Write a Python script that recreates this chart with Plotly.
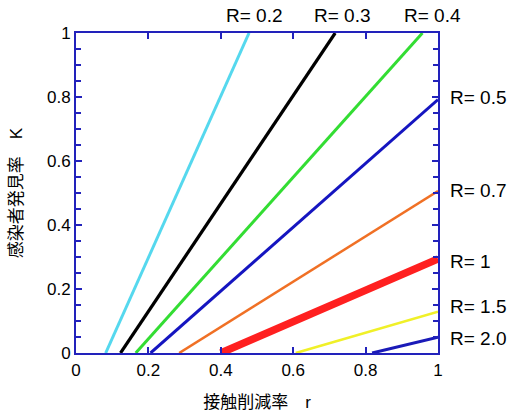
import plotly.graph_objects as go

# line endpoints: (r at K=0) -> (r, K at end)
labels = ["R= 0.2", "R= 0.3", "R= 0.4", "R= 0.5", "R= 0.7", "R= 1", "R= 1.5", "R= 2.0"]
r_start = [0.082, 0.123, 0.165, 0.206, 0.285, 0.400, 0.607, 0.818]
r_end = [0.478, 0.716, 0.957, 1.0, 1.0, 1.0, 1.0, 1.0]
k_end = [1.0, 1.0, 1.0, 0.792, 0.506, 0.294, 0.129, 0.049]
colors = ["#55d8ee", "#000000", "#33dd33", "#1515c0", "#f07025", "#ff2020", "#f0f028", "#1a1ab8"]
widths = [3, 3.2, 3, 3, 2.6, 7.5, 2.6, 3]

# label placement
top_labels = ["R= 0.2", "R= 0.3", "R= 0.4"]
top_label_x = [0.492, 0.735, 0.986]
right_labels = ["R= 0.5", "R= 0.7", "R= 1", "R= 1.5", "R= 2.0"]
right_label_y = [0.80, 0.509, 0.2875, 0.144, 0.044]

xticks = [0, 0.2, 0.4, 0.6, 0.8, 1]
xticklabels = ["0", "0.2", "0.4", "0.6", "0.8", "1"]
yticks = [0, 0.2, 0.4, 0.6, 0.8, 1]
yticklabels = ["0", "0.2", "0.4", "0.6", "0.8", "1"]

FONT = "Arial, Liberation Sans, Noto Sans CJK JP"
AX = "#2222bb"

fig = go.Figure()
for i in range(len(labels)):
    fig.add_trace(go.Scatter(
        x=[r_start[i], r_end[i]], y=[0, k_end[i]], mode="lines",
        line=dict(color=colors[i], width=widths[i]), showlegend=False,
        hoverinfo="skip"))

ann = []
for t, x in zip(top_labels, top_label_x):
    ann.append(dict(text=t, x=x, xref="x", y=1.056, yref="paper", showarrow=False,
                    xanchor="center", yanchor="middle", font=dict(size=19, color="black", family=FONT)))
for t, y in zip(right_labels, right_label_y):
    ann.append(dict(text=t, x=1.028, xref="paper", y=y, yref="y", showarrow=False,
                    xanchor="left", yanchor="middle", font=dict(size=19, color="black", family=FONT)))

fig.update_layout(
    width=509, height=414,
    margin=dict(l=76, r=71, t=33, b=61),
    plot_bgcolor="white", paper_bgcolor="white",
    font=dict(family=FONT, size=16, color="black"),
    annotations=ann,
    xaxis=dict(range=[0, 1], tickvals=xticks, ticktext=xticklabels, showgrid=False, zeroline=False,
               showline=True, linecolor=AX, linewidth=2, mirror="ticks",
               ticks="inside", ticklen=6, tickwidth=1.5, tickcolor=AX, automargin=False,
               title=dict(text="接触削減率\u3000r", font=dict(size=17), standoff=17),
               tickfont=dict(size=17), ticklabelstandoff=1),
    yaxis=dict(range=[0, 1], tickvals=yticks, ticktext=yticklabels, showgrid=False, zeroline=False,
               showline=True, linecolor=AX, linewidth=2, mirror="ticks",
               ticks="inside", ticklen=6, tickwidth=1.5, tickcolor=AX, automargin=False,
               minor=dict(dtick=0.05, ticks="inside", ticklen=5, tickwidth=1.5, tickcolor=AX),
               title=dict(text="感染者発見率\u3000K", font=dict(size=17), standoff=20),
               tickfont=dict(size=17)),
)

fig.write_html("out.html", config={"displayModeBar": False},
               post_script="document.body.style.margin='0';")
